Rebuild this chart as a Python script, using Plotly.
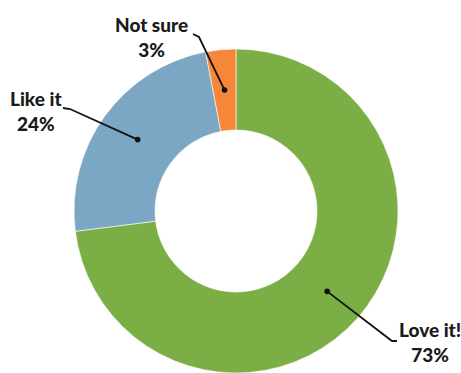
import math
import plotly.graph_objects as go

# Survey answers, in drawing order (clockwise from 12 o'clock)
labels = ["Love it!", "Like it", "Not sure"]
values = [73, 24, 3]
colors = ["#7bae44", "#7ba7c5", "#f5863a"]

W, H = 461, 373
# Donut geometry in pixels
CX, CY, R = 236, 211, 162
HOLE = 0.5


def to_paper(px, py):
    return px / W, 1 - py / H


fig = go.Figure(
    go.Pie(
        labels=labels,
        values=values,
        marker=dict(colors=colors, line=dict(color="white", width=0.6)),
        hole=HOLE,
        sort=False,
        direction="clockwise",
        rotation=0,
        textinfo="none",
        hoverinfo="label+percent",
        showlegend=False,
        domain=dict(
            x=[(CX - R) / W, (CX + R) / W],
            y=[1 - (CY + R) / H, 1 - (CY - R) / H],
        ),
    )
)

# Anchor dot of each slice: middle angle, halfway across the ring
total = sum(values)
dots = []
cum = 0
for v in values:
    mid = (cum + v / 2) / total * 2 * math.pi
    rr = R * (1 + HOLE) / 2
    dots.append((CX + rr * math.sin(mid), CY - rr * math.cos(mid)))
    cum += v

# Label text positions and leader-line start / elbow points (pixels)
label_pos = [(430, 342), (36, 111), (151, 37)]
leader = [
    [(397, 341), (392, 341)],
    [(63, 108), (70, 109)],
    [(193, 34), (199, 37)],
]

shapes = []
annotations = []
for name, v, (tx, ty), pts, (dx, dy) in zip(labels, values, label_pos, leader, dots):
    path_pts = pts + [(dx, dy)]
    d = "M " + " L ".join(
        f"{to_paper(x, y)[0]:.5f},{to_paper(x, y)[1]:.5f}" for x, y in path_pts
    )
    shapes.append(
        dict(type="path", path=d, xref="paper", yref="paper", layer="above",
             line=dict(color="#111111", width=1.8))
    )
    r0 = 2.8
    x0, y0 = to_paper(dx - r0, dy + r0)
    x1, y1 = to_paper(dx + r0, dy - r0)
    shapes.append(
        dict(type="circle", xref="paper", yref="paper", layer="above",
             x0=x0, y0=y0, x1=x1, y1=y1,
             fillcolor="#111111", line=dict(color="#111111", width=0))
    )
    ax, ay = to_paper(tx, ty)
    annotations.append(
        dict(x=ax, y=ay, xref="paper", yref="paper", showarrow=False,
             text=f"{name}<br>{v}%", align="center",
             xanchor="center", yanchor="middle",
             font=dict(family="Lato, 'Open Sans', sans-serif", size=19,
                       weight=900, color="#1a1a1a"))
    )

fig.update_layout(
    width=W,
    height=H,
    margin=dict(l=0, r=0, t=0, b=0),
    paper_bgcolor="white",
    plot_bgcolor="white",
    shapes=shapes,
    annotations=annotations,
)

fig.write_html("out.html")
